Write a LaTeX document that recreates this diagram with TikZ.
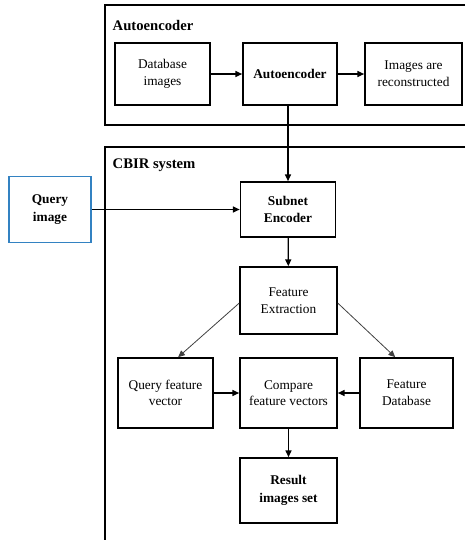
\documentclass[tikz,border=0pt]{standalone}
\usepackage{fontspec}
\setmainfont{Liberation Serif}
\usetikzlibrary{arrows.meta, positioning}

\begin{document}
\begin{tikzpicture}[x=0.75pt, y=-0.75pt, >={Triangle[length=5pt, width=4.5pt]},
      font=\fontsize{10}{12.5}\selectfont,
      block/.style={draw, line width=1.3pt, align=center, inner sep=0pt},
      frame/.style={line width=0.9pt},
      title/.style={anchor=west, font=\fontsize{11}{13}\selectfont\bfseries},
      link/.style={->, line width=0.9pt},
      thin link/.style={->, line width=0.6pt, draw=black!75}]
    \useasboundingbox (0,0) rectangle (465,540);

    % frames
    \draw[frame] (465,5) -- (105,5) -- (105,125) -- (465,125);
    \draw[frame] (465,147) -- (105,147) -- (105,540);
    \node[title] (aetitle) at (108,25) {Autoencoder};
    \node[title] (cbirtitle) at (108,165) {CBIR system};

    % autoencoder part
    \node[block, minimum width=71.25pt, minimum height=46.5pt] (db) at (162.5,74) {Database\\images};
    \node[block, minimum width=70.5pt, minimum height=46.5pt] (ae) at (290,74) {\bfseries Autoencoder};
    \node[block, minimum width=72.75pt, minimum height=46.5pt] (rec) at (413.5,74) {Images are\\reconstructed};

    % CBIR part
    \node[block, draw=blue!45!cyan!70!black!80, line width=1.4pt, minimum width=61.5pt,
          minimum height=49.5pt, font=\fontsize{10}{14}\selectfont\bfseries] (query) at (50,209.5) {Query\\image};
    \node[block, minimum width=71.25pt, minimum height=41.25pt, font=\fontsize{10}{12.5}\selectfont\bfseries] (enc) at (288,209.5) {Subnet\\Encoder};
    \node[block, minimum width=72.75pt, minimum height=50.25pt] (fx) at (288.5,300.5) {Feature\\Extraction};
    \node[block, minimum width=71.25pt, minimum height=52.5pt] (qfv) at (165.5,393) {Query feature\\vector};
    \node[block, minimum width=72.75pt, minimum height=52.5pt] (cmp) at (288.5,393) {Compare\\feature vectors};
    \node[block, minimum width=69.75pt, minimum height=52.5pt] (fdb) at (406.5,393) {Feature\\Database};
    \node[block, minimum width=72.75pt, minimum height=48.75pt, font=\fontsize{10}{14}\selectfont\bfseries] (res) at (288.5,490.5) {Result\\images set};

    % connectors
    \draw[link] (db) -- (ae);
    \draw[link] (ae) -- (rec);
    \draw[link] (ae.south -| enc.north) -- (enc.north);
    \draw[link] (query) -- (enc);
    \draw[link] (enc) -- (fx);
    \draw[thin link] ([yshift=-2pt]fx.west) -- ([xshift=9.5pt]qfv.north);
    \draw[thin link] ([yshift=-2pt]fx.east) -- ([xshift=-8.5pt]fdb.north);
    \draw[link] (qfv) -- (cmp);
    \draw[link] (fdb) -- (cmp);
    \draw[link] (cmp) -- (res);
\end{tikzpicture}
\end{document}
